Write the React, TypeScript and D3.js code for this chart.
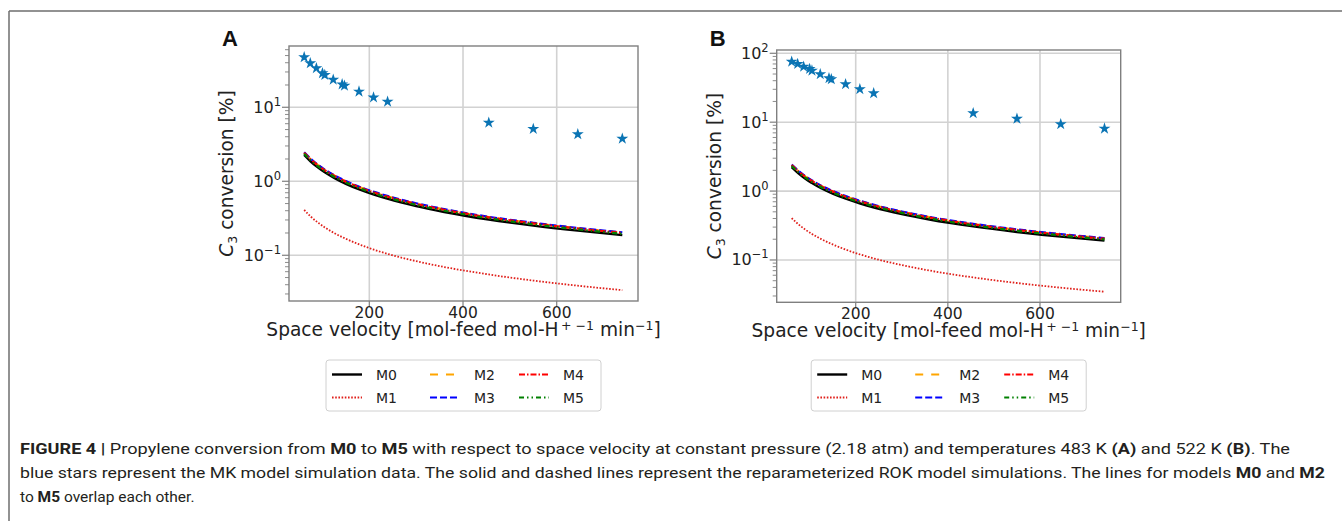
import React from "react";
import * as d3 from "d3";

// ---------- DATA ----------
const models = ["M0", "M1", "M2", "M3", "M4", "M5"];
const xTicks = [200, 400, 600];

// MK model simulation data (blue stars)
const starX = [61, 74, 87, 100, 105, 123, 142, 147, 178, 209, 239, 455, 550, 645, 740];
const starA = [47.4, 39.3, 33.7, 28.8, 27.3, 23.6, 20.4, 19.6, 16.3, 13.6, 11.9, 6.19, 5.09, 4.32, 3.76];
const starB = [75.5, 70, 64, 59.2, 56, 49.7, 43.5, 42, 35.6, 30.1, 26.3, 13.5, 11.2, 9.35, 8.07];

// ROK model lines
const lineX = [61, 75, 90, 105, 125, 150, 180, 210, 240, 300, 360, 455, 550, 645, 740];
const aM0 = [2.27, 1.85, 1.54, 1.32, 1.11, 0.923, 0.769, 0.659, 0.577, 0.462, 0.385, 0.304, 0.252, 0.215, 0.187];
const aM1 = [0.41, 0.333, 0.278, 0.238, 0.2, 0.167, 0.139, 0.119, 0.104, 0.0833, 0.0694, 0.055, 0.0455, 0.0388, 0.0338];
const aM2 = [2.45, 2.0, 1.66, 1.425, 1.2, 0.997, 0.83, 0.712, 0.623, 0.499, 0.416, 0.328, 0.272, 0.232, 0.202];
const aM3 = [2.47, 2.02, 1.68, 1.44, 1.21, 1.006, 0.838, 0.718, 0.629, 0.504, 0.42, 0.331, 0.275, 0.234, 0.204];
const aM4 = [2.43, 1.98, 1.65, 1.41, 1.19, 0.988, 0.823, 0.705, 0.617, 0.494, 0.412, 0.325, 0.27, 0.23, 0.2];
const aM5 = [2.36, 1.92, 1.6, 1.37, 1.15, 0.96, 0.8, 0.685, 0.6, 0.48, 0.4, 0.316, 0.262, 0.224, 0.195];

const bM0 = [2.22, 1.82, 1.52, 1.31, 1.1, 0.92, 0.768, 0.66, 0.578, 0.464, 0.387, 0.307, 0.255, 0.218, 0.191];
const bM1 = [0.405, 0.332, 0.278, 0.239, 0.201, 0.168, 0.14, 0.12, 0.105, 0.0843, 0.0703, 0.0558, 0.0463, 0.0396, 0.0346];
const bM2 = [2.4, 1.97, 1.64, 1.415, 1.19, 0.994, 0.83, 0.713, 0.624, 0.501, 0.418, 0.332, 0.275, 0.235, 0.206];
const bM3 = [2.42, 1.99, 1.66, 1.43, 1.2, 1.003, 0.837, 0.719, 0.63, 0.506, 0.422, 0.335, 0.278, 0.238, 0.208];
const bM4 = [2.38, 1.95, 1.63, 1.4, 1.18, 0.984, 0.822, 0.706, 0.618, 0.496, 0.414, 0.328, 0.273, 0.233, 0.204];
const bM5 = [2.31, 1.89, 1.58, 1.36, 1.14, 0.957, 0.799, 0.686, 0.601, 0.483, 0.402, 0.319, 0.265, 0.227, 0.199];

// ---------- STYLES ----------
const styles: Record<string, { color: string; dash: string | null; width: number }> = {
  M0: { color: "#000000", dash: null, width: 2.4 },
  M1: { color: "#e0201b", dash: "1.6,1.6", width: 1.8 },
  M2: { color: "#ffa500", dash: "8,8", width: 2.2 },
  M3: { color: "#0000ff", dash: "7,3", width: 2.2 },
  M4: { color: "#ff0000", dash: "6,2,1.5,2", width: 2.2 },
  M5: { color: "#008000", dash: "5,3,1.5,3,1.5,3", width: 2.2 },
};

const FONT = "'DejaVu Sans', Verdana, sans-serif";
const SPINE = "#7f7f7f";
const GRID = "#d2d2d2";

type PanelProps = {
  letter: string;
  x0: number; x1: number; y0: number; y1: number;
  xDom: [number, number]; yDom: [number, number];
  stars: number[];
  lines: Record<string, number[]>;
};

function Panel(p: PanelProps) {
  const x = d3.scaleLinear().domain(p.xDom).range([p.x0, p.x1]);
  const y = d3.scaleLog().domain(p.yDom).range([p.y1, p.y0]);
  const line = d3
    .line<number>()
    .x((_, i) => x(lineX[i]))
    .y((d) => y(d))
    .curve(d3.curveMonotoneX);

  const kMin = Math.floor(Math.log10(p.yDom[0]));
  const kMax = Math.ceil(Math.log10(p.yDom[1]));
  const majors: number[] = [];
  const minors: number[] = [];
  for (let k = kMin; k <= kMax; k++) {
    const v = Math.pow(10, k);
    if (v >= p.yDom[0] && v <= p.yDom[1]) majors.push(k);
    for (let m = 2; m <= 9; m++) {
      const mv = m * v;
      if (mv >= p.yDom[0] && mv <= p.yDom[1]) minors.push(mv);
    }
  }
  const star = d3.symbol().type(d3.symbolStar).size(44)();
  const cx = (p.x0 + p.x1) / 2;
  const cy = (p.y0 + p.y1) / 2;
  const order = ["M0", "M1", "M2", "M3", "M4", "M5"];

  // legend
  const legW = 275, legH = 51;
  const lx = cx - legW / 2, ly = 360;
  const cols = [[models[0], models[1]], [models[2], models[3]], [models[4], models[5]]];
  const colOff = [6, 104, 193];

  return (
    <g>
      <clipPath id={"clip" + p.letter}>
        <rect x={p.x0} y={p.y0} width={p.x1 - p.x0} height={p.y1 - p.y0} />
      </clipPath>
      {/* grid */}
      {xTicks.map((t) => (
        <line key={"gx" + t} x1={x(t)} x2={x(t)} y1={p.y0} y2={p.y1} stroke={GRID} strokeWidth={1.6} />
      ))}
      {majors.map((k) => (
        <line key={"gy" + k} x1={p.x0} x2={p.x1} y1={y(Math.pow(10, k))} y2={y(Math.pow(10, k))} stroke={GRID} strokeWidth={1.6} />
      ))}
      {/* lines */}
      <g clipPath={`url(#clip${p.letter})`}>
        {order.map((m) => (
          <path
            key={m}
            d={line(p.lines[m]) || ""}
            fill="none"
            stroke={styles[m].color}
            strokeWidth={styles[m].width}
            strokeDasharray={styles[m].dash || undefined}
          />
        ))}
        {p.stars.map((v, i) => (
          <path key={"s" + i} d={star || ""} transform={`translate(${x(starX[i])},${y(v)})`} fill="#0a74b4" />
        ))}
      </g>
      {/* spines */}
      <rect x={p.x0} y={p.y0} width={p.x1 - p.x0} height={p.y1 - p.y0} fill="none" stroke={SPINE} strokeWidth={1.4} />
      {/* x ticks */}
      {xTicks.map((t) => (
        <g key={"xt" + t}>
          <line x1={x(t)} x2={x(t)} y1={p.y1} y2={p.y1 + 6} stroke={SPINE} strokeWidth={1.2} />
          <text x={x(t)} y={p.y1 + 17} textAnchor="middle" fontFamily={FONT} fontSize={15.5} fill="#222">
            {t}
          </text>
        </g>
      ))}
      {/* y ticks */}
      {minors.map((v, i) => (
        <line key={"mn" + i} x1={p.x0 - 4} x2={p.x0} y1={y(v)} y2={y(v)} stroke={SPINE} strokeWidth={0.9} />
      ))}
      {majors.map((k) => (
        <g key={"yt" + k}>
          <line x1={p.x0 - 7} x2={p.x0} y1={y(Math.pow(10, k))} y2={y(Math.pow(10, k))} stroke={SPINE} strokeWidth={1.2} />
          <text x={p.x0 - 8} y={y(Math.pow(10, k)) + 5.5} textAnchor="end" fontFamily={FONT} fontSize={16} fill="#222">
            10
            <tspan dy={-7} fontSize={11.5}>
              {k < 0 ? "\u2212" + Math.abs(k) : String(k)}
            </tspan>
          </text>
        </g>
      ))}
      {/* axis labels */}
      <text x={cx} y={p.y1 + 35} textAnchor="middle" fontFamily={FONT} fontSize={18.6} fill="#222">
        Space velocity [mol-feed mol-H
        <tspan dy={-6} fontSize={12.5}>{"\u2009+ \u22121"}</tspan>
        <tspan dy={6}> min</tspan>
        <tspan dy={-6} fontSize={12.5}>{"\u22121"}</tspan>
        <tspan dy={6}>]</tspan>
      </text>
      <text
        transform={`translate(${p.x0 - 56},${cy}) rotate(-90)`}
        textAnchor="middle"
        fontFamily={FONT}
        fontSize={18.6}
        fill="#222"
      >
        <tspan fontStyle="italic">C</tspan>
        <tspan dy={4} fontSize={12.5}>3</tspan>
        <tspan dy={-4}> conversion [%]</tspan>
      </text>
      {/* panel letter */}
      <text x={p.x0 - 67} y={46} fontFamily="'Liberation Sans', Arial, sans-serif" fontWeight="bold" fontSize={22} fill="#111">
        {p.letter}
      </text>
      {/* legend */}
      <rect x={lx} y={ly} width={legW} height={legH} rx={3} fill="#fff" stroke="#d0d0d0" strokeWidth={1} />
      {cols.map((col, ci) =>
        col.map((m, ri) => {
          const yy = ly + 14.5 + ri * 23;
          const xx = lx + colOff[ci];
          return (
            <g key={m}>
              <line
                x1={xx}
                x2={xx + 30}
                y1={yy}
                y2={yy}
                stroke={styles[m].color}
                strokeWidth={styles[m].width}
                strokeDasharray={styles[m].dash || undefined}
              />
              <text x={xx + 44} y={yy + 5} fontFamily={FONT} fontSize={14} fill="#222">
                {m}
              </text>
            </g>
          );
        })
      )}
    </g>
  );
}

const CAP_FONT = "Roboto, 'Liberation Sans', Arial, sans-serif";

export default function App() {
  const linesA = { M0: aM0, M1: aM1, M2: aM2, M3: aM3, M4: aM4, M5: aM5 };
  const linesB = { M0: bM0, M1: bM1, M2: bM2, M3: bM3, M4: bM4, M5: bM5 };
  return (
    <div style={{ position: "absolute", left: 0, top: 0 }}>
      <svg width={1342} height={521} style={{ display: "block", background: "#fff" }}>
        {/* frame */}
        <line x1={9} x2={1342} y1={11} y2={11} stroke="#6e6e6e" strokeWidth={1.5} />
        <line x1={9} x2={9} y1={11} y2={521} stroke="#6e6e6e" strokeWidth={1.5} />
        <Panel letter="A" x0={289} x1={638} y0={46} y1={301} xDom={[28.6, 773.5]} yDom={[0.0241, 67.3]} stars={starA} lines={linesA} />
        <Panel letter="B" x0={776.7} x1={1120.7} y0={50} y1={302.3} xDom={[28.5, 775.2]} yDom={[0.0243, 111.6]} stars={starB} lines={linesB} />
        {/* caption */}
        <g fontFamily={CAP_FONT} fontSize={15.5} fill="#231f20">
          <text x={20} y={454} textLength={1270} lengthAdjust="spacingAndGlyphs">
            <tspan fontWeight="bold">FIGURE 4 |</tspan> Propylene conversion from <tspan fontWeight="bold">M0</tspan> to{" "}
            <tspan fontWeight="bold">M5</tspan> with respect to space velocity at constant pressure (2.18 atm) and temperatures 483 K{" "}
            <tspan fontWeight="bold">(A)</tspan> and 522 K <tspan fontWeight="bold">(B)</tspan>. The
          </text>
          <text x={20} y={478} textLength={1305} lengthAdjust="spacingAndGlyphs">
            blue stars represent the MK model simulation data. The solid and dashed lines represent the reparameterized ROK model
            simulations. The lines for models <tspan fontWeight="bold">M0</tspan> and <tspan fontWeight="bold">M2</tspan>
          </text>
          <text x={20} y={502}>
            to <tspan fontWeight="bold">M5</tspan> overlap each other.
          </text>
        </g>
      </svg>
    </div>
  );
}
